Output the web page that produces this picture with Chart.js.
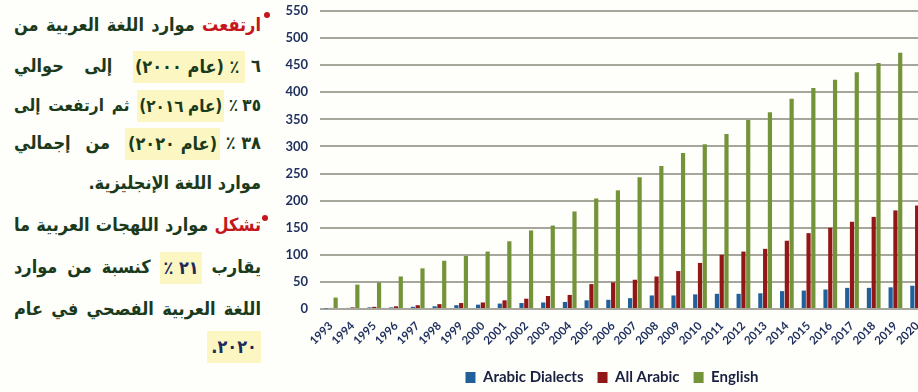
<!DOCTYPE html>
<html lang="ar">
<head>
<meta charset="utf-8">
<script src="https://cdn.jsdelivr.net/npm/chart.js@4.4.1/dist/chart.umd.min.js"></script>
<style>
    html, body { margin: 0; padding: 0; }
    body { width: 918px; height: 392px; overflow: hidden; background: #fefefa; position: relative; }
    #notes { position: absolute; left: 0; top: 0; width: 275px; height: 392px; }
    #notes .ln {
        position: absolute; left: 14px; width: 247px; height: 40px; line-height: 40px;
        font-family: "DejaVu Sans Condensed", "DejaVu Sans", sans-serif; font-weight: bold; font-size: 18px;
        color: #1b3a1b; white-space: nowrap; direction: rtl;
    }
    #notes .just { text-align: justify; text-align-last: justify; }
    #notes .end { text-align: right; }
    #notes .red { color: #c4161c; }
    #notes .navy { color: #1c2a5c; }
    #notes .grp { display: inline-block; }
    #notes .hl { display: inline-block; background: #fcf7c2; line-height: 32px; vertical-align: middle; }
    #notes .dot { position: absolute; width: 6px; height: 6px; border-radius: 50%; background: #c4161c; }
    #chartBox { position: absolute; left: 270px; top: 0; width: 684px; height: 392px; }
</style>
</head>
<body>
<div id="notes" dir="rtl">
    <span class="dot" style="left:264px; top:12px"></span>
    <div class="ln just" style="top:5px"><span class="red">ارتفعت</span> موارد اللغة العربية من</div>
    <div class="ln just" style="top:46px"><span class="grp">٦ <span class="hl" style="padding:0 6px 0 2px">٪ (عام ٢٠٠٠)</span></span> إلى حوالي</div>
    <div class="ln just" style="top:85px; font-size:17px; word-spacing:-1px"><span class="grp">٣٥ ٪ <span class="hl" style="padding:0 2px">(عام ٢٠١٦)</span></span> ثم ارتفعت إلى</div>
    <div class="ln just" style="top:123px"><span class="grp">٣٨ ٪ <span class="hl" style="padding:0 3px">(عام ٢٠٢٠)</span></span> من إجمالي</div>
    <div class="ln end" style="top:163px">موارد اللغة الإنجليزية.</div>
    <span class="dot" style="left:262px; top:215px"></span>
    <div class="ln just" style="top:205px"><span class="red">تشكل</span> موارد اللهجات العربية ما</div>
    <div class="ln just" style="top:247px">يقارب <span class="hl navy" style="padding:0 3px">٢١ ٪</span> كنسبة من موارد</div>
    <div class="ln just" style="top:289px">اللغة العربية الفصحي في عام</div>
    <div class="ln end" style="top:326px"><span class="hl navy" style="padding:0 4px">٢٠٢٠.</span></div>
</div>
<div id="chartBox"><canvas id="chart"></canvas></div>
<script>
document.addEventListener("DOMContentLoaded", () => {
    // ===============================
    // DATOS
    // ===============================
    const years = ["1993", "1994", "1995", "1996", "1997", "1998", "1999", "2000", "2001", "2002",
        "2003", "2004", "2005", "2006", "2007", "2008", "2009", "2010", "2011", "2012",
        "2013", "2014", "2015", "2016", "2017", "2018", "2019", "2020"];
    const dialects = [1, 2, 3, 3, 4, 5, 7, 8, 10, 11, 12, 13, 16, 17, 20, 25, 25, 27, 28, 28, 29, 33, 34, 36, 39, 39, 40, 43];
    const allArabic = [2, 3, 4, 5, 7, 9, 11, 12, 16, 19, 24, 26, 46, 49, 54, 60, 70, 85, 100, 106, 111, 126, 140, 150, 161, 170, 182, 191];
    const english = [21, 45, 49, 60, 75, 89, 98, 106, 125, 145, 154, 180, 204, 219, 243, 264, 288, 304, 323, 349, 363, 388, 408, 423, 437, 454, 473, 479];
    const seriesNames = ["Arabic Dialects", "All Arabic", "English"];
    const yMax = 550;
    const yStep = 50;

    const colors = ["#22609c", "#921717", "#74943a"];
    const axisText = "#1f2f5e";

    const chartEl = document.getElementById("chart");
    if (!chartEl || !window.Chart) return;

    // la leyenda del original esta un poco mas a la derecha que el centro del canvas
    const legendShift = {
        id: "legendShift",
        afterLayout(chart) {
            if (!chart.legend) return;
            chart.legend.left += 13;
            chart.legend.right += 13;
        }
    };

    new Chart(chartEl, {
        type: "bar",
        data: {
            labels: years,
            datasets: [dialects, allArabic, english].map((vals, i) => ({
                label: seriesNames[i],
                data: vals,
                backgroundColor: colors[i],
                borderWidth: 0,
                categoryPercentage: 0.66,
                barPercentage: 0.88
            }))
        },
        plugins: [legendShift],
        options: {
            responsive: true,
            maintainAspectRatio: false,
            animation: false,
            layout: { padding: { top: 11, right: 26, left: 0, bottom: -3 } },
            plugins: {
                tooltip: { enabled: false },
                legend: {
                    position: "bottom",
                    labels: {
                        boxWidth: 10, boxHeight: 11, padding: 14,
                        color: "#1a2040",
                        font: { family: "Lato", weight: "bold", size: 15 }
                    }
                }
            },
            scales: {
                x: {
                    grid: { display: false },
                    border: { display: false },
                    ticks: {
                        color: axisText, autoSkip: false, minRotation: 45, maxRotation: 45, padding: 2,
                        font: { family: "Lato", weight: "bold", size: 11.5 }
                    },
                    afterFit: (scale) => { scale.height = 47; }
                },
                y: {
                    min: 0, max: yMax,
                    border: { display: false },
                    grid: { color: "#a6a69d", lineWidth: 2, drawTicks: false },
                    ticks: {
                        stepSize: yStep, padding: 12, color: axisText,
                        font: { family: "Lato", weight: "bold", size: 13 }
                    },
                    afterFit: (scale) => {
                        scale.width = 50;
                        scale.paddingTop = 0;
                        scale.paddingBottom = 0;
                    }
                }
            }
        }
    });
});
</script>
</body>
</html>
